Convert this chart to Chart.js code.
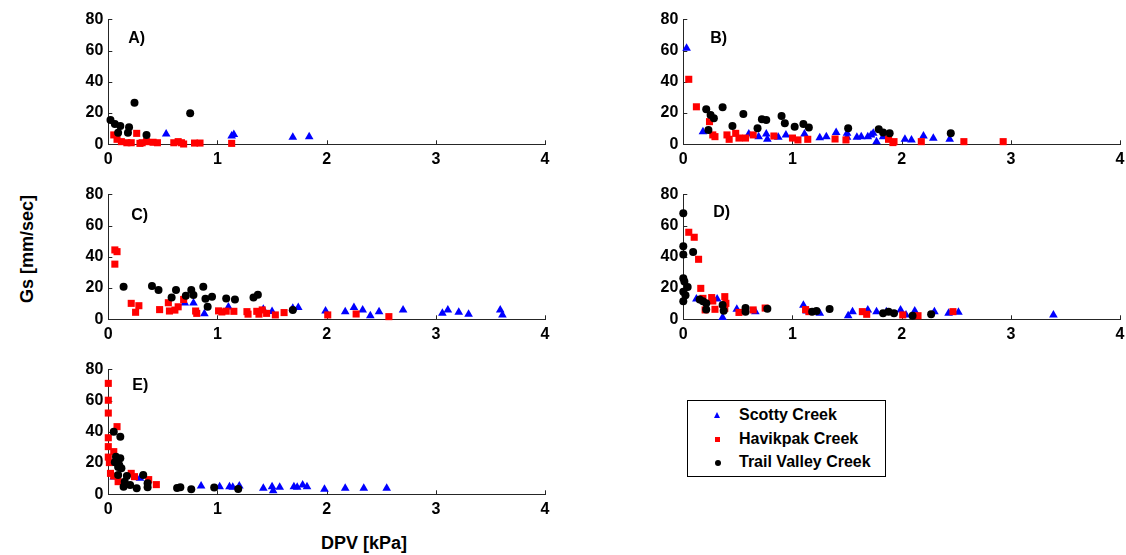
<!DOCTYPE html>
<html>
<head>
<meta charset="utf-8">
<title>Gs vs DPV</title>
<script src="https://cdn.jsdelivr.net/npm/chart.js@4"></script>
<style>
  body { margin: 0; width: 1126px; height: 555px; overflow: hidden; background: #fff;
         font-family: "Liberation Sans", Arial, sans-serif; color: #000; }
  .panel { position: absolute; width: 500px; height: 170px; }
  .axis-title { position: absolute; font-weight: bold; font-size: 18px; white-space: nowrap;
                transform: translate(-50%, -50%); }
  #legend { position: absolute; left: 687px; top: 400px; width: 197px; height: 75px;
            border: 1.5px solid #000; }
  .leg-row { position: absolute; left: 0; height: 20px; font-weight: bold; font-size: 16px; }
  .leg-row span.txt { position: absolute; left: 51px; top: 0; line-height: 20px; white-space: nowrap; }
  .sym { position: absolute; }
</style>
</head>
<body>

<div class="panel" style="left:60px;top:0px"><canvas id="panelA" width="500" height="170"></canvas></div>
<div class="panel" style="left:635px;top:0px"><canvas id="panelB" width="500" height="170"></canvas></div>
<div class="panel" style="left:60px;top:175px"><canvas id="panelC" width="500" height="170"></canvas></div>
<div class="panel" style="left:635px;top:175px"><canvas id="panelD" width="500" height="170"></canvas></div>
<div class="panel" style="left:60px;top:350px"><canvas id="panelE" width="500" height="170"></canvas></div>

<div class="axis-title" style="left:27px;top:249px;transform:translate(-50%,-50%) rotate(-90deg)">Gs [mm/sec]</div>
<div class="axis-title" style="left:364px;top:543px">DPV [kPa]</div>
<div id="legend"></div>

<script>
// --- data: [DPV (kPa), Gs (mm/sec)] per site and panel ---
const seriesNames = ['Scotty Creek', 'Havikpak Creek', 'Trail Valley Creek'];
const panelTags = ['A)', 'B)', 'C)', 'D)', 'E)'];
const xTicks = [0, 1, 2, 3, 4];
const yTicks = [0, 20, 40, 60, 80];

const scottyA = [[0.53,6.6],[1.13,5.3],[1.15,6.2],[1.69,4.5],[1.84,4.9]];
const havikA = [[0.05,6],[0.08,3.2],[0.12,1.7],[0.17,1],[0.21,1],[0.26,7],[0.29,0.6],[0.31,1],[0.35,1.7],
  [0.41,1.3],[0.45,1],[0.6,1],[0.64,1.7],[0.67,1],[0.69,0.2],[0.79,0.8],[0.84,0.8],[1.13,0.6]];
const trailA = [[0.02,15.5],[0.06,13],[0.11,11.7],[0.09,7.4],[0.19,10.9],[0.18,7.4],[0.24,26.6],[0.35,6],[0.75,19.8]];

const scottyB = [[0.03,61.4],[0.18,8],[0.6,6.6],[0.69,4.9],[0.76,6.6],[0.77,3.2],[0.87,4.5],[0.94,6],[1.11,6.6],
  [1.25,4.2],[1.31,4.9],[1.4,7.6],[1.5,4.5],[1.5,7],[1.59,4.5],[1.63,4.9],[1.69,4.9],[1.72,6],[1.74,7],[1.77,1.7],
  [1.83,4.9],[2.03,3.2],[2.09,2.8],[2.2,5.3],[2.29,3.8],[2.44,3.2]];
const havikB = [[0.05,41.6],[0.12,24],[0.24,14.5],[0.27,6],[0.29,4.9],[0.4,6],[0.42,3.2],[0.48,7],[0.51,4],
  [0.57,4],[0.64,6],[0.83,5.3],[1.0,4],[1.05,2.8],[1.14,3.2],[1.39,3.4],[1.49,2.8],[1.88,3.2],[1.92,1.1],
  [1.93,1.7],[2.18,1.7],[2.57,1.7],[2.93,1.7]];
const trailB = [[0.21,22.4],[0.23,9.2],[0.25,18.8],[0.28,16.6],[0.36,23.7],[0.45,11.7],[0.55,19.4],[0.68,10.2],
  [0.72,16],[0.76,15.6],[0.9,18.1],[0.93,13.4],[1.02,11.3],[1.1,13],[1.15,10.7],[1.51,10.2],[1.79,9.6],
  [1.83,7.5],[1.89,7],[2.45,7]];

const scottyC = [[0.7,10.5],[0.78,10.5],[0.88,3.5],[1.1,7.8],[1.42,6.5],[1.5,5],[1.69,7],[1.74,7.5],[1.99,5.3],
  [2.17,4.9],[2.25,7.5],[2.33,6],[2.4,2.3],[2.48,4.9],[2.7,6],[3.06,3.8],[3.11,6],[3.21,4.5],[3.3,3.2],
  [3.59,6],[3.61,2.8]];
const havikC = [[0.06,44.4],[0.08,43.3],[0.06,35.3],[0.21,10.2],[0.25,4.5],[0.28,8.7],[0.47,6.2],[0.55,10.6],
  [0.56,5.3],[0.61,5.9],[0.64,8],[0.69,12.7],[0.8,5.3],[0.81,3.8],[1.01,5.4],[1.04,4.7],[1.08,5.2],[1.15,5.1],
  [1.27,4.9],[1.28,3.3],[1.36,5.1],[1.38,3.3],[1.41,6],[1.45,3.8],[1.53,2.8],[1.61,4.3],[2.01,2.8],[2.27,3.4],
  [2.57,1.7]];
const trailC = [[0.14,20.9],[0.4,21.3],[0.46,18.8],[0.58,13.9],[0.62,18.8],[0.71,15.1],[0.76,18.7],[0.78,15.5],
  [0.87,20.9],[0.89,13.1],[0.91,8],[0.95,14.4],[1.08,13.3],[1.16,12.7],[1.33,13.9],[1.37,15.7],[1.69,6]];

const scottyD = [[0.12,13],[0.31,13],[0.36,1.2],[0.49,6.5],[0.66,4.9],[1.1,9],[1.13,5.3],[1.25,3.8],[1.51,2.3],
  [1.55,4.9],[1.69,6],[1.77,4.9],[1.86,4.9],[1.99,6],[2.04,2.8],[2.12,5.3],[2.3,4.9],[2.43,3.8],[2.52,4.5],
  [3.39,2.8]];
const havikD = [[0.05,55.7],[0.1,52.5],[0.14,38.4],[0.16,19.8],[0.18,13.4],[0.2,6],[0.26,13.9],[0.27,11.7],
  [0.29,6.4],[0.38,14.5],[0.39,10.2],[0.38,7],[0.51,4.4],[0.64,6],[0.75,7.2],[1.12,6.2],[1.15,4.9],[1.64,4.9],
  [1.68,3.2],[2.01,2.8],[2.15,2.3],[2.47,4.9]];
const trailD = [[0,67.8],[0,46.8],[0,41.5],[0.09,43],[0,26.2],[0.01,24.2],[0.04,20.7],[0,17.7],[0.02,15.4],
  [0,11.6],[0.15,12.6],[0.18,11.5],[0.21,10.2],[0.21,6.2],[0.36,9.2],[0.37,5.4],[0.57,7.2],[0.57,4.8],
  [0.77,6.8],[1.18,4.9],[1.22,5.3],[1.34,6.6],[1.83,3.8],[1.88,4.9],[1.93,3.8],[2.1,2.3],[2.27,3.2]];

const scottyE = [[0.05,11],[0.29,10.2],[0.85,5.3],[1.02,4.9],[1.11,4.9],[1.14,4.5],[1.2,5.3],[1.42,3.8],
  [1.5,4.9],[1.51,2.3],[1.57,4.5],[1.7,4.9],[1.73,4.5],[1.78,6],[1.82,4.9],[1.98,3.2],[2.17,3.8],[2.34,3.8],
  [2.55,3.8]];
const havikE = [[0,71],[0,60.2],[0,52],[0.08,43.3],[0,36.2],[0,30.5],[0.05,27.3],[0,23.8],[0.01,20.3],
  [0.02,13.4],[0.05,11.7],[0.09,8.1],[0.21,13.4],[0.24,11.3],[0.37,9.4],[0.44,6.2]];
const trailE = [[0.05,40],[0.11,36.9],[0.07,24],[0.11,23],[0.06,20.5],[0.09,17.5],[0.1,18.8],[0.12,16.6],
  [0.09,12.4],[0.17,11.7],[0.15,8.1],[0.14,4.9],[0.2,6],[0.26,3.8],[0.32,12.4],[0.36,7],[0.36,4.5],[0.63,4],
  [0.66,4.5],[0.76,3.2],[0.97,4.3],[1.19,3.4]];

const panelData = [
  [scottyA, havikA, trailA],
  [scottyB, havikB, trailB],
  [scottyC, havikC, trailC],
  [scottyD, havikD, trailD],
  [scottyE, havikE, trailE]
];

// --- styling ---
const FONT = '"Liberation Sans", Arial, sans-serif';
const AXIS = '#262626';
Chart.defaults.font.family = FONT;
Chart.defaults.font.size = 16;
Chart.defaults.font.weight = 'bold';
Chart.defaults.color = '#000';

const markers = [
  { pointStyle: 'triangle', radius: 5, color: '#0000ff' },
  { pointStyle: 'rect', radius: 5, color: '#ff0000' },
  { pointStyle: 'circle', radius: 4, color: '#000000' }
];
// offset of the panel letter from the top-left of the plot area
const tagOffsets = [[20, 19], [27, 19], [23, 21], [30, 18], [24, 16]];

// small tick marks pointing into the plot
const inwardTicks = {
  id: 'inwardTicks',
  beforeDatasetsDraw(chart) {
    const { ctx, chartArea, scales: { x, y } } = chart;
    ctx.save();
    ctx.strokeStyle = AXIS;
    ctx.lineWidth = 1;
    ctx.beginPath();
    x.ticks.forEach(t => {
      const px = Math.round(x.getPixelForValue(t.value)) + 0.5;
      ctx.moveTo(px, chartArea.bottom);
      ctx.lineTo(px, chartArea.bottom - 4);
    });
    y.ticks.forEach(t => {
      const py = Math.round(y.getPixelForValue(t.value)) + 0.5;
      ctx.moveTo(chartArea.left, py);
      ctx.lineTo(chartArea.left + 4, py);
    });
    ctx.stroke();
    ctx.restore();
  }
};

// "A)", "B)" ... inside each plot
const panelTag = {
  id: 'panelTag',
  afterDraw(chart, args, opts) {
    const { ctx, chartArea } = chart;
    ctx.save();
    ctx.font = 'bold 16px ' + FONT;
    ctx.fillStyle = '#000';
    ctx.textBaseline = 'middle';
    ctx.fillText(opts.text, chartArea.left + opts.dx, chartArea.top + opts.dy);
    ctx.restore();
  }
};

const tickFont = { family: FONT, size: 16, weight: 'bold' };
const ids = ['panelA', 'panelB', 'panelC', 'panelD', 'panelE'];

ids.forEach((id, p) => {
  // Trail Valley first so it is drawn on top, Scotty last (bottom)
  const datasets = [2, 1, 0].map(s => ({
    label: seriesNames[s],
    data: panelData[p][s].map(([x, y]) => ({ x, y })),
    pointStyle: markers[s].pointStyle,
    pointRadius: markers[s].radius,
    pointBackgroundColor: markers[s].color,
    pointBorderWidth: 0,
    showLine: false,
    clip: false
  }));

  new Chart(document.getElementById(id), {
    type: 'scatter',
    data: { datasets },
    plugins: [inwardTicks, panelTag],
    options: {
      responsive: false,
      animation: false,
      events: [],
      layout: { padding: { top: 19.3, right: 15, bottom: 0, left: 0 } },
      plugins: {
        legend: { display: false },
        tooltip: { enabled: false },
        panelTag: { text: panelTags[p], dx: tagOffsets[p][0], dy: tagOffsets[p][1] }
      },
      scales: {
        x: {
          type: 'linear',
          min: xTicks[0], max: xTicks[xTicks.length - 1],
          afterBuildTicks: s => { s.ticks = xTicks.map(v => ({ value: v })); },
          afterFit: s => { s.height = 25.7; },
          grid: { display: false, drawTicks: false },
          border: { display: true, color: AXIS, width: 1 },
          ticks: { padding: 6, color: '#000', maxRotation: 0, autoSkip: false, font: tickFont }
        },
        y: {
          type: 'linear',
          min: yTicks[0], max: yTicks[yTicks.length - 1],
          afterBuildTicks: s => { s.ticks = yTicks.map(v => ({ value: v })); },
          afterFit: s => { s.width = 48.3; },
          grid: { display: false, drawTicks: false },
          border: { display: true, color: AXIS, width: 1 },
          ticks: { padding: 5, color: '#000', autoSkip: false, font: tickFont }
        }
      }
    }
  });
});

// --- legend box ---
const legend = document.getElementById('legend');
const rowTops = [4, 28, 51];
seriesNames.forEach((name, s) => {
  const row = document.createElement('div');
  row.className = 'leg-row';
  row.style.top = rowTops[s] + 'px';
  const sym = document.createElement('div');
  sym.className = 'sym';
  if (s === 0) {
    Object.assign(sym.style, { left: '26px', top: '7px', width: '0', height: '0',
      borderLeft: '3.5px solid transparent', borderRight: '3.5px solid transparent',
      borderBottom: '6px solid ' + markers[s].color });
  } else if (s === 1) {
    Object.assign(sym.style, { left: '27px', top: '8px', width: '5px', height: '5px',
      background: markers[s].color });
  } else {
    Object.assign(sym.style, { left: '26.5px', top: '7.5px', width: '6px', height: '6px',
      borderRadius: '50%', background: markers[s].color });
  }
  const txt = document.createElement('span');
  txt.className = 'txt';
  txt.textContent = name;
  row.appendChild(sym);
  row.appendChild(txt);
  legend.appendChild(row);
});
</script>
</body>
</html>
